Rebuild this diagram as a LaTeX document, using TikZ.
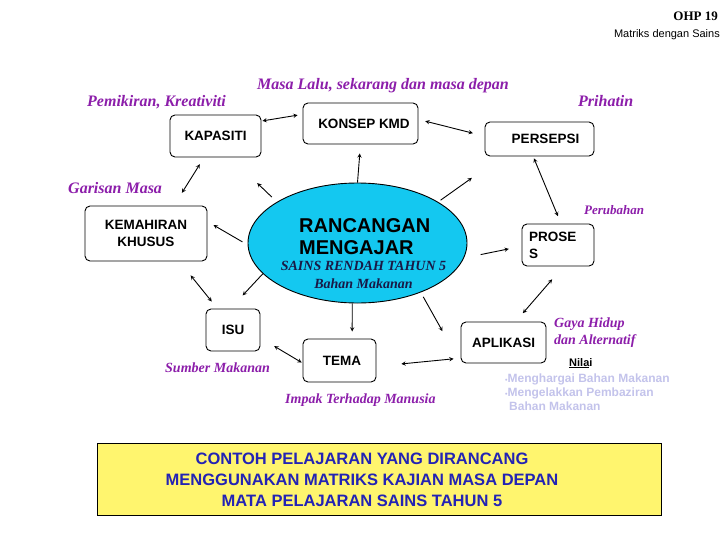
\documentclass[tikz,border=0pt]{standalone}
\usepackage{fontspec}
\setmainfont{Liberation Serif}
\setsansfont{Liberation Sans}
\usetikzlibrary{shapes.geometric, arrows}

\definecolor{ungu}{RGB}{140,30,170}
\definecolor{birulangit}{RGB}{20,200,240}
\definecolor{kuning}{RGB}{255,245,110}
\definecolor{birutua}{RGB}{35,35,180}
\definecolor{lembayung}{RGB}{195,195,235}
\definecolor{hitambiru}{RGB}{25,25,70}

\begin{document}
\begin{tikzpicture}[x=1pt, y=-1pt, >=stealth,
    kotak/.style={draw, rounded corners=5pt, line width=0.9pt, inner sep=0pt,
        font=\sffamily\bfseries\fontsize{13.5}{17}\selectfont},
    catatan/.style={text=ungu, inner sep=0pt, anchor=base west,
        font=\bfseries\itshape\fontsize{16}{18}\selectfont},
    catatankecil/.style={catatan, font=\bfseries\itshape\fontsize{14}{17}\selectfont}]
    \path[use as bounding box] (0,0) rectangle (728,546);

    % tajuk slaid
    \node[anchor=base east, inner sep=0pt, font=\bfseries\fontsize{13}{15}\selectfont] (ohp) at (718,20) {OHP 19};
    \node[anchor=base east, inner sep=0pt, font=\sffamily\fontsize{11}{13}\selectfont] (subtajuk) at (720,37) {Matriks dengan Sains};

    % pusat
    \node[ellipse, draw, fill=birulangit, line width=0.9pt, minimum width=219pt, minimum height=120pt] (ell) at (357.5,243) {};
    \node[anchor=base west, inner sep=0pt, align=left, font=\sffamily\bfseries\fontsize{20}{22}\selectfont] (judul) at (299,254) {RANCANGAN\\MENGAJAR};
    \node[anchor=base, inner sep=0pt, align=center, text=hitambiru, font=\bfseries\itshape\fontsize{14}{18}\selectfont] (subjudul) at (363.5,288) {SAINS RENDAH TAHUN 5\\Bahan Makanan};

    % kotak-kotak
    \node[kotak, minimum width=91pt, minimum height=42pt] (kap) at (215.5,136) {KAPASITI};
    \node[kotak, minimum width=115pt, minimum height=41pt] (kon) at (360.5,123.5) {\hspace*{7pt}KONSEP KMD};
    \node[kotak, minimum width=109pt, minimum height=34pt] (per) at (539.5,139) {\hspace*{12pt}PERSEPSI};
    \node[kotak, minimum width=72pt, minimum height=42pt, align=left, text width=58pt] (pro) at (558,245) {PROSE\\S};
    \node[kotak, minimum width=122pt, minimum height=55pt, align=center] (kem) at (146,233.5) {KEMAHIRAN\\KHUSUS};
    \node[kotak, minimum width=54pt, minimum height=42pt] (isu) at (233,330) {ISU};
    \node[kotak, minimum width=73pt, minimum height=43pt] (tem) at (339.5,360.5) {\hspace*{5pt}TEMA};
    \node[kotak, minimum width=85pt, minimum height=41pt] (apl) at (503.5,342.5) {APLIKASI};

    % anak panah
    \draw[line width=0.9pt]
          (ell.north) edge[->, shorten >=9pt] (kon.south)
          (ell.153) edge[->, shorten <=7pt, shorten >=37pt] (kap.-55)
          (kap.-118) edge[<->, shorten <=8pt, shorten >=15pt] (kem.45)
          (kap.18) edge[<->, shorten <=1pt, shorten >=5pt] (kon.171)
          (kon.4) edge[<->, shorten <=7pt, shorten >=12pt] (per.177)
          (ell.27) edge[->, shorten <=3pt, shorten >=37pt] (per.-155)
          (per.-110) edge[<->, shorten <=2pt, shorten >=8pt] (pro.82)
          (ell.-8) edge[->, shorten <=17pt, shorten >=13pt] (pro.-178)
          (pro.-76) edge[<->, shorten <=17pt, shorten >=11pt] (apl.60)
          (ell.-38) edge[->, shorten <=5pt, shorten >=37pt] (apl.south west)
          (tem.-9) edge[<->, shorten <=25pt, shorten >=7pt] (apl.-160)
          (ell.-95) edge[->, shorten >=7pt] (tem.60)
          (isu.-16) edge[<->, shorten <=16pt, shorten >=1pt] (tem.-176)
          (ell.-162) edge[->, shorten >=18pt] (isu.97)
          (kem.-40) edge[<->, shorten <=18pt, shorten >=9pt] (isu.126)
          (ell.181) edge[->, shorten <=6pt, shorten >=7pt] (kem.11);

    % catatan ungu
    \node[catatan] (masa) at (257,89) {Masa Lalu, sekarang dan masa depan};
    \node[catatan] (pemikiran) at (87,106) {Pemikiran, Kreativiti};
    \node[catatan] (prihatin) at (578,106) {Prihatin};
    \node[catatan] (garisan) at (68,193) {Garisan Masa};
    \node[catatankecil, font=\bfseries\itshape\fontsize{13}{15}\selectfont] (perubahan) at (584,214) {Perubahan};
    \node[catatankecil, align=left] (gaya) at (554,344) {Gaya Hidup\\dan Alternatif};
    \node[catatankecil] (sumber) at (165,372) {Sumber Makanan};
    \node[catatankecil] (impak) at (285,403) {Impak Terhadap Manusia};

    % nilai
    \node[anchor=base west, inner sep=0pt, font=\sffamily\bfseries\fontsize{11}{13}\selectfont] (nilai) at (569,366) {\underline{Nila}i};
    \node[anchor=base west, inner sep=0pt, align=left, text=lembayung, font=\sffamily\bfseries\fontsize{12}{14}\selectfont] (senarainilai) at (505,410)
        {{\fontsize{7}{7}\selectfont\textbullet}Menghargai Bahan Makanan\\{\fontsize{7}{7}\selectfont\textbullet}Mengelakkan Pembaziran\\\hspace*{4pt}Bahan Makanan};

    % kotak kuning
    \node[draw, fill=kuning, line width=0.8pt, minimum width=564pt, minimum height=72pt, inner sep=0pt] (kotakbawah) at (379,479) {};
    \node[anchor=base, inner sep=0pt, align=center, text=birutua, font=\sffamily\bfseries\fontsize{16.5}{21}\selectfont] (tajuk) at (362,506)
        {CONTOH PELAJARAN YANG DIRANCANG\\MENGGUNAKAN MATRIKS KAJIAN MASA DEPAN\\MATA PELAJARAN SAINS TAHUN 5};
\end{tikzpicture}
\end{document}
